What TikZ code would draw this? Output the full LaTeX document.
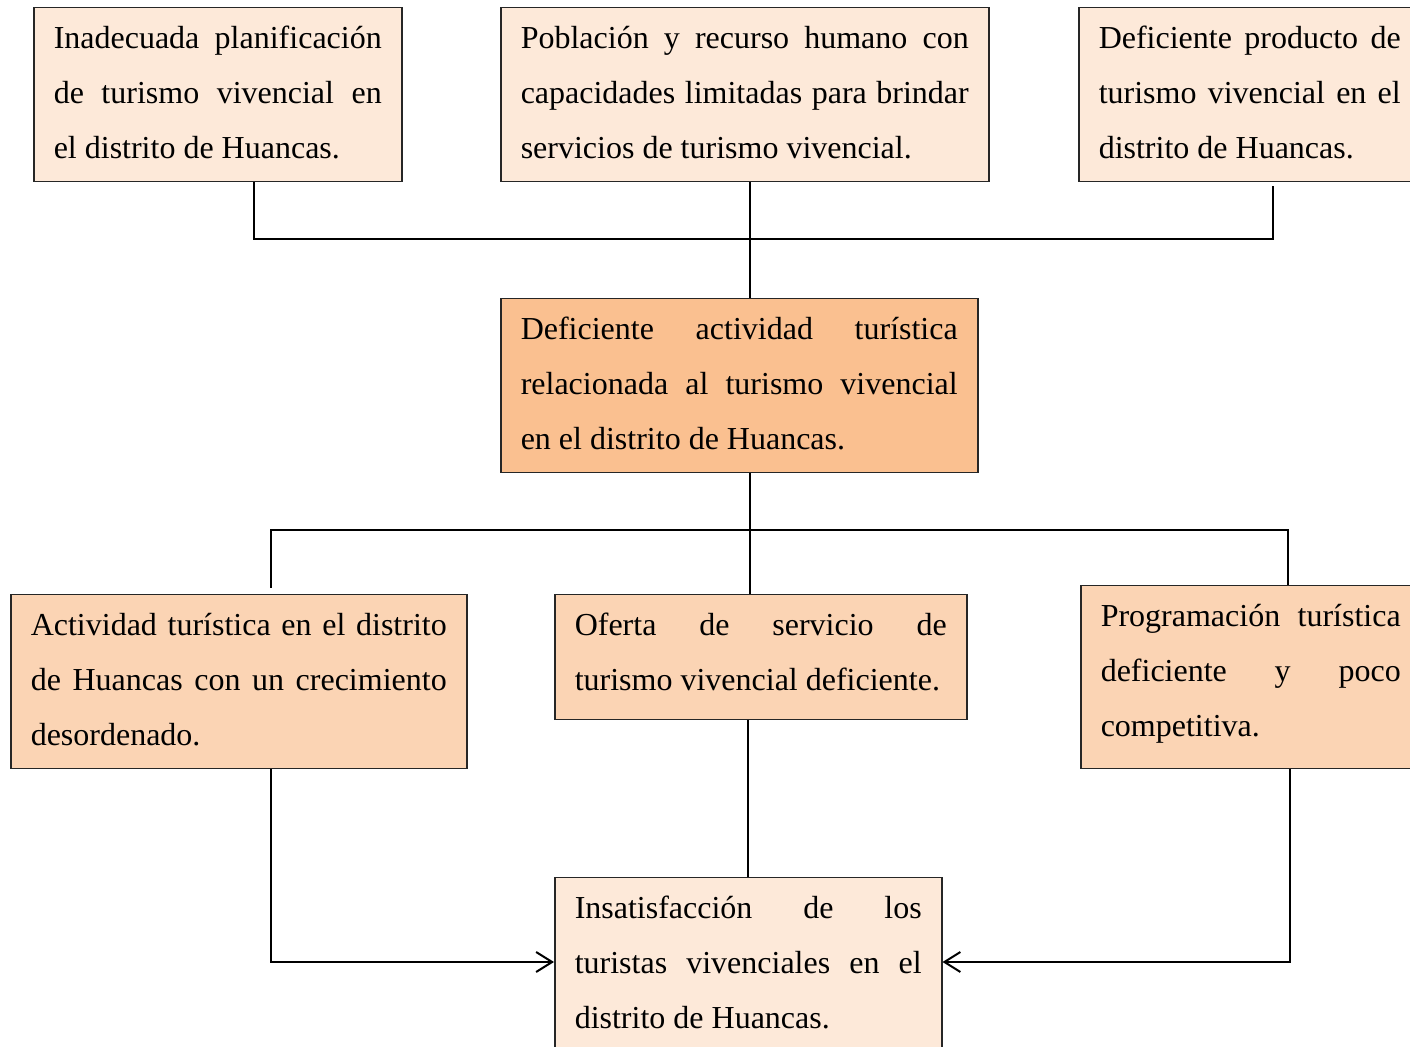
\documentclass[tikz,border=0pt]{standalone}
\usepackage{fontspec}
\setmainfont{Liberation Serif}
\usetikzlibrary{arrows.meta}
\definecolor{cTop}{HTML}{FDE9D9}
\definecolor{cMid}{HTML}{FBD4B4}
\definecolor{cCen}{HTML}{FAC090}
\newcommand\jl[1]{\makebox[\linewidth][s]{#1}\\}
\newcommand\boxtext[3]{\parbox[c][#1][t]{#2}{\rule{0pt}{20.5pt}#3}}
\tikzset{
  bx/.style={draw=black!85, line width=0.75pt, inner xsep=10pt, inner ysep=0pt,
    anchor=north west, font=\fontsize{16pt}{27.5pt}\selectfont},
  ln/.style={draw=black, line width=1pt},
  arr/.style={-{Straight Barb[length=8pt,width=10pt,line width=1pt]}}
}
\begin{document}
\begin{tikzpicture}[x=0.5pt,y=-0.5pt]
\useasboundingbox (0,0) rectangle (1410,1047);
\clip (0,0) rectangle (1410,1047);
\fill[white] (0,0) rectangle (1410,1047);

\node[bx,fill=cTop] (t1) at (33,7) {\boxtext{87pt}{164pt}{\jl{Inadecuada planificación}\jl{de turismo vivencial en}el distrito de Huancas.}};
\node[bx,fill=cTop] (t2) at (500,7) {\boxtext{87pt}{224pt}{\jl{Población y recurso humano con}\jl{capacidades limitadas para brindar}servicios de turismo vivencial.}};
\node[bx,fill=cTop] (t3) at (1078,7) {\boxtext{87pt}{151pt}{\jl{Deficiente producto de}\jl{turismo vivencial en el}distrito de Huancas.}};

\node[bx,fill=cCen] (c) at (500,298) {\boxtext{87pt}{218.5pt}{\jl{Deficiente actividad turística}\jl{relacionada al turismo vivencial}en el distrito de Huancas.}};

\node[bx,fill=cMid] (m1) at (10,594) {\boxtext{87pt}{208pt}{\jl{Actividad turística en el distrito}\jl{de Huancas con un crecimiento}desordenado.}};
\node[bx,fill=cMid] (m2) at (554,594) {\boxtext{62.5pt}{186pt}{\jl{Oferta de servicio de}turismo vivencial deficiente.}};
\node[bx,fill=cMid] (m3) at (1080,585) {\boxtext{91.5pt}{150pt}{\jl{Programación turística}\jl{deficiente y poco}competitiva.}};

\node[bx,fill=cTop] (bt) at (554,877) {\boxtext{95pt}{173.5pt}{\jl{Insatisfacción de los}\jl{turistas vivenciales en el}distrito de Huancas.}};

\coordinate (a1) at (254,239);
\coordinate (a3) at (1273,239);
\coordinate (xa) at (750,0);
\coordinate (b1) at (271,530);
\coordinate (b3) at (1288,530);
\coordinate (d1) at (271,962);
\coordinate (d3) at (1290,962);
\coordinate (xm) at (748,0);

\draw[ln] (t1.south -| a1) -- (a1) -- (a3) -- ([yshift=-2pt]t3.south -| a3);
\draw[ln] (t2.south -| xa) -- (c.north -| xa);
\draw[ln] (c.south -| xa) -- (m2.north -| xa);
\draw[ln] ([yshift=3pt]m1.north -| b1) -- (b1) -- (b3) -- (m3.north -| b3);
\draw[ln] (m2.south -| xm) -- (bt.north -| xm);
\draw[ln,arr] (m1.south -| d1) -- (d1) -- (bt.west |- d1);
\draw[ln,arr] (m3.south -| d3) -- (d3) -- (bt.east |- d3);
\end{tikzpicture}
\end{document}
